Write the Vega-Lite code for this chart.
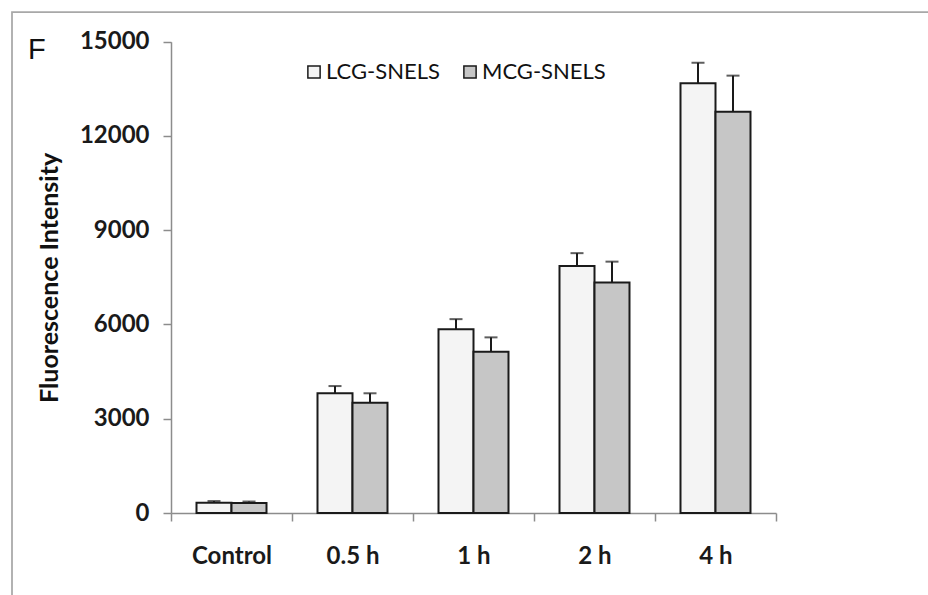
{
  "$schema": "https://vega.github.io/schema/vega-lite/v6.json",
  "autosize": {"type": "none"},
  "padding": {"left": 12, "top": 12, "right": -6, "bottom": -6},
  "width": 922,
  "height": 589,
  "background": "white",
  "title": {
    "text": "F",
    "anchor": "start",
    "frame": "group",
    "orient": "top",
    "offset": -76,
    "dx": 16,
    "baseline": "alphabetic",
    "font": "Liberation Sans",
    "fontSize": 29,
    "fontWeight": "normal",
    "color": "#111111"
  },
  "config": {
    "view": {"stroke": "#a8a8a8", "strokeWidth": 1.75},
    "font": "Lato"
  },
  "data": {
    "values": [
      {"time": "Control", "group": "LCG-SNELS", "mean": 330, "upper": 380},
      {"time": "Control", "group": "MCG-SNELS", "mean": 320, "upper": 365},
      {"time": "0.5 h", "group": "LCG-SNELS", "mean": 3810, "upper": 4040},
      {"time": "0.5 h", "group": "MCG-SNELS", "mean": 3510, "upper": 3810},
      {"time": "1 h", "group": "LCG-SNELS", "mean": 5850, "upper": 6170},
      {"time": "1 h", "group": "MCG-SNELS", "mean": 5130, "upper": 5590},
      {"time": "2 h", "group": "LCG-SNELS", "mean": 7860, "upper": 8270},
      {"time": "2 h", "group": "MCG-SNELS", "mean": 7340, "upper": 8000},
      {"time": "4 h", "group": "LCG-SNELS", "mean": 13680, "upper": 14330},
      {"time": "4 h", "group": "MCG-SNELS", "mean": 12770, "upper": 13920}
    ]
  },
  "encoding": {
    "x": {
      "field": "time",
      "type": "nominal",
      "sort": ["Control", "0.5 h", "1 h", "2 h", "4 h"],
      "scale": {"range": [159, 764], "paddingInner": 0, "paddingOuter": 0},
      "axis": {
        "title": null,
        "offset": -88,
        "tickBand": "extent",
        "tickSize": 8,
        "tickColor": "#8c8c8c",
        "tickWidth": 1.5,
        "domainColor": "#8c8c8c",
        "domainWidth": 1.5,
        "labelAngle": 0,
        "labelFont": "Lato",
        "labelFontSize": 24,
        "labelFontWeight": "bold",
        "labelColor": "#1a1a1a",
        "labelPadding": 23,
        "grid": false
      }
    },
    "xOffset": {
      "field": "group",
      "type": "nominal",
      "scale": {"paddingInner": 0, "paddingOuter": 0.7286}
    }
  },
  "layer": [
    {
      "mark": {"type": "bar", "stroke": "#1a1a1a", "strokeWidth": 2},
      "encoding": {
        "y": {
          "field": "mean",
          "type": "quantitative",
          "scale": {"domain": [0, 15000], "range": [501, 29.7], "nice": false, "zero": true},
          "axis": {
            "title": "Fluorescence Intensity",
            "titleFont": "Lato",
            "titleFontSize": 25,
            "titleFontWeight": "bold",
            "titleColor": "#111111",
            "titlePadding": 17,
            "offset": -159,
            "values": [0, 3000, 6000, 9000, 12000, 15000],
            "format": "d",
            "tickSize": 8,
            "tickColor": "#8c8c8c",
            "tickWidth": 1.5,
            "domainColor": "#8c8c8c",
            "domainWidth": 1.5,
            "labelFont": "Lato",
            "labelFontSize": 24,
            "labelFontWeight": "bold",
            "labelColor": "#1a1a1a",
            "labelPadding": 14,
            "grid": false
          }
        },
        "fill": {
          "field": "group",
          "type": "nominal",
          "scale": {"domain": ["LCG-SNELS", "MCG-SNELS"], "range": ["#f4f4f4", "#c6c6c6"]},
          "legend": {
            "title": null,
            "orient": "none",
            "direction": "horizontal",
            "legendX": 291,
            "legendY": 49,
            "padding": 0,
            "symbolType": "square",
            "symbolSize": 150,
            "symbolStrokeColor": "#1a1a1a",
            "symbolStrokeWidth": 1.5,
            "labelFont": "Lato",
            "labelFontSize": 22,
            "labelColor": "#111111",
            "labelOffset": 1,
            "columnPadding": 19
          }
        }
      }
    },
    {
      "mark": {"type": "rule", "stroke": "#1a1a1a", "strokeWidth": 2},
      "encoding": {
        "y": {"field": "mean", "type": "quantitative"},
        "y2": {"field": "upper"}
      }
    },
    {
      "mark": {"type": "tick", "color": "#1a1a1a", "size": 13, "thickness": 2, "orient": "horizontal"},
      "encoding": {
        "y": {"field": "upper", "type": "quantitative"}
      }
    }
  ]
}
